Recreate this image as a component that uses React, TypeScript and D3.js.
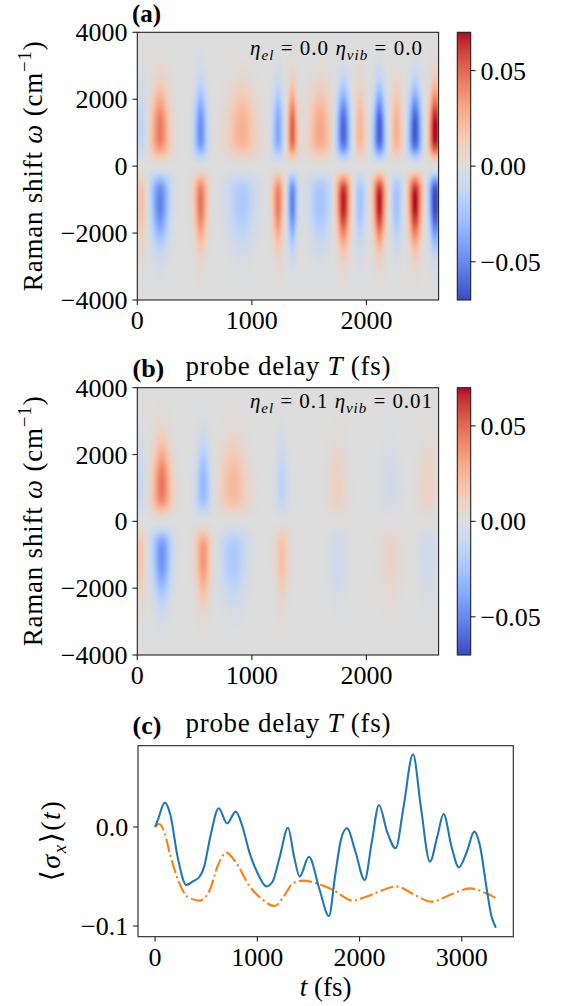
import React, { useMemo } from 'react';
import * as d3 from 'd3';

const W = 566;
const H = 1006;
const FONT = '"Liberation Serif", "DejaVu Serif", serif';

// ---------- panel (a): lobes of the Raman map (eta_el = 0, eta_vib = 0) ----------
const lobeTimesA = [35, 198, 553, 911, 1228, 1353, 1595, 1798, 1944, 2113, 2264, 2424, 2600];
const upperAmpA = [-0.015, 0.045, -0.048, 0.026, -0.038, 0.052, 0.03, -0.062, 0.024, -0.064, 0.026, -0.066, 0.072];
const lowerAmpA = [0.02, -0.052, 0.047, -0.022, 0.044, -0.052, -0.025, 0.068, -0.025, 0.068, -0.026, 0.07, -0.072];
const lobeWidthA = [50, 78, 55, 120, 48, 42, 95, 58, 50, 52, 50, 56, 52];

// ---------- panel (b): lobes of the Raman map (eta_el = 0.1, eta_vib = 0.01) ----------
const lobeTimesB = [25, 213, 575, 838, 1260, 1750, 2210, 2540];
const upperAmpB = [-0.012, 0.046, -0.031, 0.023, -0.016, 0.01, -0.006, 0.01];
const lowerAmpB = [0.018, -0.046, 0.036, -0.022, 0.02, -0.008, 0.008, -0.008];
const lobeWidthB = [45, 78, 62, 115, 52, 80, 90, 80];

const mapTMax = 2630;
const omegaMax = 4000;
const vLim = 0.07;
const mapXTicks = [0, 1000, 2000];
const mapYTicks = [-4000, -2000, 0, 2000, 4000];
const cbTicks = [-0.05, 0, 0.05];

// matplotlib "coolwarm"
const coolwarm = [
  [59, 76, 192], [68, 90, 204], [77, 104, 215], [87, 117, 225], [98, 130, 234], [108, 142, 241],
  [119, 154, 247], [130, 165, 251], [141, 176, 254], [152, 185, 255], [163, 194, 255], [174, 201, 253],
  [184, 208, 249], [194, 213, 244], [204, 217, 238], [213, 219, 230], [221, 221, 221], [229, 216, 209],
  [236, 211, 197], [241, 204, 185], [245, 196, 173], [247, 187, 160], [247, 177, 148], [247, 166, 135],
  [244, 154, 123], [241, 141, 111], [236, 127, 99], [229, 112, 88], [222, 96, 77], [213, 80, 66],
  [203, 62, 56], [192, 40, 47], [180, 4, 38],
];

// ---------- panel (c): <sigma_x>(t) ----------
const blueT = [0, 30, 95, 150, 220, 307, 370, 437, 480, 540, 623, 704, 789, 850, 926, 1000, 1089, 1150, 1220, 1300, 1360, 1414, 1505, 1610, 1701, 1760, 1820, 1877, 1960, 2050, 2120, 2190, 2270, 2353, 2430, 2523, 2600, 2688, 2760, 2822, 2900, 2971, 3050, 3122, 3180, 3240, 3290, 3334];
const blueV = [0, 0.008, 0.0246, 0.012, -0.03, -0.0586, -0.055, -0.05, -0.04, -0.01, 0.0189, 0.0037, 0.0155, 0.002, -0.0266, -0.046, -0.06, -0.055, -0.03, -0.0007, -0.03, -0.05, -0.03, -0.0636, -0.0899, -0.05, -0.012, -0.0013, -0.025, -0.0535, -0.015, 0.0222, -0.005, -0.0215, 0.02, 0.0734, 0.02, -0.035, -0.01, 0.0131, -0.02, -0.0408, -0.025, -0.0047, -0.02, -0.06, -0.09, -0.1017];
const orangeT = [0, 39, 90, 144, 225, 323, 437, 535, 616, 698, 796, 926, 1056, 1170, 1268, 1349, 1447, 1577, 1740, 1936, 2066, 2229, 2360, 2530, 2702, 2900, 3076, 3239, 3337];
const orangeV = [0, 0.003, -0.005, -0.0266, -0.0535, -0.071, -0.0744, -0.0636, -0.0384, -0.0259, -0.0367, -0.06, -0.0737, -0.0798, -0.0687, -0.0569, -0.0542, -0.0569, -0.0636, -0.0744, -0.0704, -0.0636, -0.06, -0.068, -0.0754, -0.068, -0.062, -0.067, -0.072];
const lineXTicks = [0, 1000, 2000, 3000];
const lineYTicks = [-0.1, 0.0];

// ---------- layout ----------
const mapLeft = 137.3;
const mapRight = 438.6;
const panelA = { top: 32.3, bottom: 300 };
const panelB = { top: 387.7, bottom: 655 };
const cbLeft = 457.3;
const cbRight = 470.7;
const lineBox = { left: 138, right: 513.3, top: 745.7, bottom: 936.7 };
const TICK = 4.9;
const FS = 26;

const fmtMinus = (s: string) => s.replace('-', '\u2212');

function field(t: number, w: number, times: number[], up: number[], low: number[], wid: number[]) {
  const a = Math.abs(w);
  const core = a < 1150 ? Math.exp(-(((a - 1150) / 850) ** 4)) : Math.exp(-(((a - 1150) / 1200) ** 2));
  const cut = 1 - Math.exp(-((a / 120) ** 2));
  const taper = Math.max(0.75, Math.min(1.1, 1 - 0.1 * (a - 1150) / 1000));
  const amps = w >= 0 ? up : low;
  let s = 0;
  for (let k = 0; k < times.length; k++) {
    const ww = wid[k] * taper;
    s += amps[k] * Math.exp(-(((t - times[k]) / ww) ** 2));
  }
  return s * core * cut;
}

function useHeatmap(times: number[], up: number[], low: number[], wid: number[], top: number, bottom: number) {
  return useMemo(() => {
    const x = d3.scaleLinear().domain([0, mapTMax]).range([mapLeft, mapRight]);
    const y = d3.scaleLinear().domain([-omegaMax, omegaMax]).range([bottom, top]);
    const color = d3
      .scaleLinear<string>()
      .domain(coolwarm.map((_, i) => -vLim + (2 * vLim * i) / (coolwarm.length - 1)))
      .range(coolwarm.map((c) => `rgb(${c[0]},${c[1]},${c[2]})`))
      .interpolate(d3.interpolateRgb)
      .clamp(true);
    const LUTN = 512;
    const lut: number[][] = [];
    for (let i = 0; i < LUTN; i++) {
      const v = -vLim + (2 * vLim * i) / (LUTN - 1);
      const c = d3.rgb(color(v));
      lut.push([c.r, c.g, c.b]);
    }
    const wpx = Math.round(mapRight - mapLeft);
    const hpx = Math.round(bottom - top);
    const canvas = document.createElement('canvas');
    canvas.width = wpx;
    canvas.height = hpx;
    const ctx = canvas.getContext('2d')!;
    const img = ctx.createImageData(wpx, hpx);
    for (let j = 0; j < hpx; j++) {
      const w = y.invert(top + ((j + 0.5) * (bottom - top)) / hpx);
      for (let i = 0; i < wpx; i++) {
        const t = x.invert(mapLeft + ((i + 0.5) * (mapRight - mapLeft)) / wpx);
        const v = field(t, w, times, up, low, wid);
        let idx = Math.round(((v + vLim) / (2 * vLim)) * (LUTN - 1));
        idx = Math.max(0, Math.min(LUTN - 1, idx));
        const c = lut[idx];
        const p = (j * wpx + i) * 4;
        img.data[p] = c[0];
        img.data[p + 1] = c[1];
        img.data[p + 2] = c[2];
        img.data[p + 3] = 255;
      }
    }
    ctx.putImageData(img, 0, 0);
    return canvas.toDataURL();
  }, [times, up, low, wid, top, bottom]);
}

function MapPanel({ top, bottom, url, label, gradId }: { top: number; bottom: number; url: string; label: React.ReactNode; gradId: string }) {
  const x = d3.scaleLinear().domain([0, mapTMax]).range([mapLeft, mapRight]);
  const y = d3.scaleLinear().domain([-omegaMax, omegaMax]).range([bottom, top]);
  const cb = d3.scaleLinear().domain([-vLim, vLim]).range([bottom, top]);
  const midY = (top + bottom) / 2;
  return (
    <g>
      <image href={url} x={mapLeft} y={top} width={mapRight - mapLeft} height={bottom - top} preserveAspectRatio="none" />
      <rect x={mapLeft} y={top} width={mapRight - mapLeft} height={bottom - top} fill="none" stroke="#222" strokeWidth={1.1} />
      {mapYTicks.map((v) => (
        <g key={v}>
          <line x1={mapLeft - TICK} x2={mapLeft} y1={y(v)} y2={y(v)} stroke="#222" strokeWidth={1.1} />
          <text x={mapLeft - TICK - 4.9} y={y(v) + 9} textAnchor="end" fontSize={FS} fontFamily={FONT}>
            {fmtMinus(String(v))}
          </text>
        </g>
      ))}
      {mapXTicks.map((v) => (
        <g key={v}>
          <line x1={x(v)} x2={x(v)} y1={bottom} y2={bottom + TICK} stroke="#222" strokeWidth={1.1} />
          <text x={x(v)} y={bottom + 29} textAnchor="middle" fontSize={FS} fontFamily={FONT}>
            {String(v)}
          </text>
        </g>
      ))}
      <text transform={`translate(42,${midY}) rotate(-90)`} textAnchor="middle" fontSize={27} fontFamily={FONT} textLength={250} lengthAdjust="spacing">
        Raman shift <tspan fontStyle="italic">ω</tspan> (cm
        <tspan fontSize={19} dy={-11}>−1</tspan>
        <tspan dy={11}>)</tspan>
      </text>
      {label}
      {/* colorbar */}
      <rect x={cbLeft} y={top} width={cbRight - cbLeft} height={bottom - top} fill={`url(#${gradId})`} stroke="#222" strokeWidth={1.1} />
      {cbTicks.map((v) => (
        <g key={v}>
          <line x1={cbRight} x2={cbRight + TICK} y1={cb(v)} y2={cb(v)} stroke="#222" strokeWidth={1.1} />
          <text x={cbRight + TICK + 4.9} y={cb(v) + 9} fontSize={FS} fontFamily={FONT}>
            {fmtMinus(v.toFixed(2))}
          </text>
        </g>
      ))}
    </g>
  );
}

function Eta({ x, y, el, vib, len }: { x: number; y: number; el: string; vib: string; len: number }) {
  return (
    <text x={x} y={y} fontSize={21} fontFamily={FONT} textLength={len} lengthAdjust="spacing">
      <tspan fontStyle="italic">η</tspan>
      <tspan fontStyle="italic" fontSize={15} dy={5}>el</tspan>
      <tspan dy={-5}> = {el} </tspan>
      <tspan fontStyle="italic">η</tspan>
      <tspan fontStyle="italic" fontSize={15} dy={5}>vib</tspan>
      <tspan dy={-5}> = {vib}</tspan>
    </text>
  );
}

function ProbeLabel({ y, tag }: { y: number; tag: string }) {
  const cx = (mapLeft + mapRight) / 2;
  return (
    <g>
      <text x={132.5} y={y + 2} fontSize={FS} fontWeight="bold" fontFamily={FONT}>
        {tag}
      </text>
      <text x={cx} y={y} textAnchor="middle" fontSize={27} fontFamily={FONT} textLength={205} lengthAdjust="spacing">
        probe delay <tspan fontStyle="italic">T</tspan> (fs)
      </text>
    </g>
  );
}

export default function App() {
  const urlA = useHeatmap(lobeTimesA, upperAmpA, lowerAmpA, lobeWidthA, panelA.top, panelA.bottom);
  const urlB = useHeatmap(lobeTimesB, upperAmpB, lowerAmpB, lobeWidthB, panelB.top, panelB.bottom);

  const lx = d3.scaleLinear().domain([-167, 3504]).range([lineBox.left, lineBox.right]);
  const ly = d3.scaleLinear().domain([-0.1108, 0.0821]).range([lineBox.bottom, lineBox.top]);
  const line = d3
    .line<[number, number]>()
    .x((d) => lx(d[0]))
    .y((d) => ly(d[1]))
    .curve(d3.curveMonotoneX);
  const bluePts = blueT.map((t, i) => [t, blueV[i]] as [number, number]);
  const orangePts = orangeT.map((t, i) => [t, orangeV[i]] as [number, number]);
  const lineMidY = (lineBox.top + lineBox.bottom) / 2;
  const lineMidX = (lineBox.left + lineBox.right) / 2;

  return (
    <svg width={W} height={H} viewBox={`0 0 ${W} ${H}`} style={{ position: 'absolute', left: 0, top: 0, background: '#fff' }}>
      <defs>
        {['gradA', 'gradB'].map((id) => (
          <linearGradient key={id} id={id} x1="0" y1="1" x2="0" y2="0">
            {coolwarm.map((c, i) => (
              <stop key={i} offset={i / (coolwarm.length - 1)} stopColor={`rgb(${c[0]},${c[1]},${c[2]})`} />
            ))}
          </linearGradient>
        ))}
        <clipPath id="lineClip">
          <rect x={lineBox.left} y={lineBox.top} width={lineBox.right - lineBox.left} height={lineBox.bottom - lineBox.top} />
        </clipPath>
      </defs>
      <rect x={0} y={0} width={W} height={H} fill="#fff" />

      <text x={132} y={22} fontSize={25} fontWeight="bold" fontFamily={FONT}>
        (a)
      </text>
      <MapPanel top={panelA.top} bottom={panelA.bottom} url={urlA} gradId="gradA" label={<Eta x={250} y={55} el="0.0" vib="0.0" len={172} />} />
      <ProbeLabel y={375} tag="(b)" />
      <MapPanel top={panelB.top} bottom={panelB.bottom} url={urlB} gradId="gradB" label={<Eta x={250} y={408} el="0.1" vib="0.01" len={182} />} />
      <ProbeLabel y={732} tag="(c)" />

      {/* panel (c) */}
      <g clipPath="url(#lineClip)">
        <path d={line(orangePts) || ''} fill="none" stroke="#ff7f0e" strokeWidth={2.08} strokeDasharray="13.3 3.3 2.1 3.3" />
        <path d={line(bluePts) || ''} fill="none" stroke="#1f77b4" strokeWidth={2.08} />
      </g>
      <rect x={lineBox.left} y={lineBox.top} width={lineBox.right - lineBox.left} height={lineBox.bottom - lineBox.top} fill="none" stroke="#222" strokeWidth={1.1} />
      {lineXTicks.map((v) => (
        <g key={v}>
          <line x1={lx(v)} x2={lx(v)} y1={lineBox.bottom} y2={lineBox.bottom + TICK} stroke="#222" strokeWidth={1.1} />
          <text x={lx(v)} y={lineBox.bottom + 29} textAnchor="middle" fontSize={FS} fontFamily={FONT}>
            {String(v)}
          </text>
        </g>
      ))}
      {lineYTicks.map((v) => (
        <g key={v}>
          <line x1={lineBox.left - TICK} x2={lineBox.left} y1={ly(v)} y2={ly(v)} stroke="#222" strokeWidth={1.1} />
          <text x={lineBox.left - TICK - 4.9} y={ly(v) + 9} textAnchor="end" fontSize={FS} fontFamily={FONT}>
            {fmtMinus(v.toFixed(1))}
          </text>
        </g>
      ))}
      <text x={lineMidX} y={996} textAnchor="middle" fontSize={27} fontFamily={FONT}>
        <tspan fontStyle="italic">t</tspan> (fs)
      </text>
      <text transform={`translate(60,${lineMidY}) rotate(-90)`} textAnchor="middle" fontSize={28} fontFamily={FONT} textLength={80} lengthAdjust="spacing">
        ⟨<tspan fontStyle="italic">σ</tspan>
        <tspan fontStyle="italic" fontSize={19} dy={6}>x</tspan>
        <tspan dy={-6}>⟩(</tspan>
        <tspan fontStyle="italic">t</tspan>)
      </text>
    </svg>
  );
}
